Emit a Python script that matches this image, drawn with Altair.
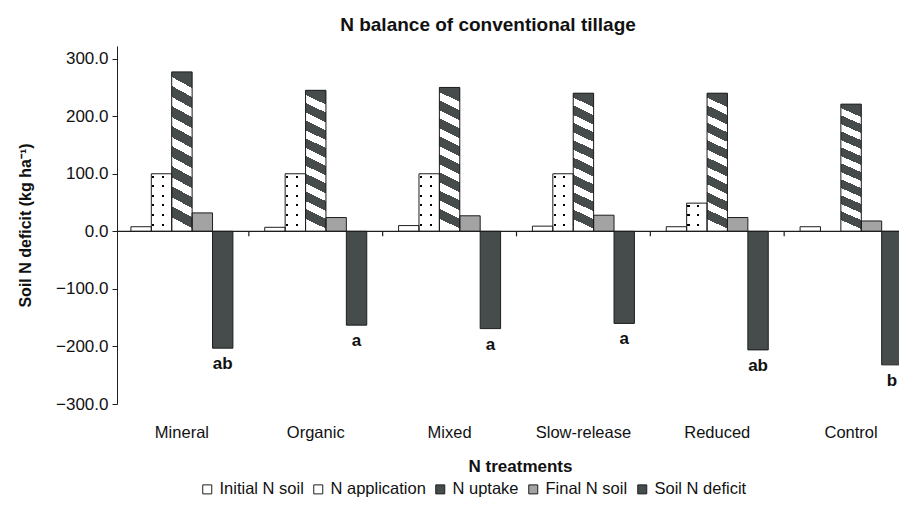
import altair as alt
import pandas as pd

# ---- data ----
treatments = ["Mineral", "Organic", "Mixed", "Slow-release", "Reduced", "Control"]
series = ["Initial N soil", "N application", "N uptake", "Final N soil", "Soil N deficit"]

initial_n_soil = [8, 7, 10, 9, 8, 8]
n_application = [100, 100, 100, 100, 49, 0]
n_uptake = [277, 245, 250, 240, 240, 221]
final_n_soil = [32, 24, 27, 28, 24, 18]
soil_n_deficit = [-203, -163, -169, -160, -206, -232]
letters = ["ab", "a", "a", "a", "ab", "b"]

y_ticks = [-300, -200, -100, 0, 100, 200, 300]

values = [initial_n_soil, n_application, n_uptake, final_n_soil, soil_n_deficit]
rows = []
for s, vals in zip(series, values):
    for t, v in zip(treatments, vals):
        rows.append({"treatment": t, "series": s, "value": v})
df = pd.DataFrame(rows)

df_letters = pd.DataFrame({
    "treatment": treatments,
    "series": ["Soil N deficit"] * len(treatments),
    "value": soil_n_deficit,
    "letter": letters,
})

# boundaries between treatment groups (small ticks below the zero line)
df_bounds = pd.DataFrame({"treatment": treatments[1:], "top": 0.0, "bottom": -8.7})
df_zero = pd.DataFrame({"value": [0.0]})

FONT = "Liberation Sans"
DARK = "#464c4c"
INK = "#1e1e1e"

W, H = 782, 358

x_scale = alt.Scale(domain=treatments, range=[-2, 801], paddingInner=0, paddingOuter=0)
x_enc = alt.X(
    "treatment:N",
    sort=treatments,
    scale=x_scale,
    axis=alt.Axis(
        title="N treatments",
        orient="bottom",
        domain=False,
        ticks=False,
        labelPadding=20,
        labelFontSize=16.5,
        labelAngle=0,
        titleFontSize=17,
        titleFontWeight="bold",
        titleX=403,
        titleY=62,
        titleBaseline="middle",
    ),
)
xo_enc = alt.XOffset("series:N", sort=series,
                     scale=alt.Scale(domain=series, paddingInner=0, paddingOuter=0.78))
y_scale = alt.Scale(domain=[-300, 322], nice=False, zero=False)
y_axis = alt.Axis(
    title="Soil N deficit  (kg ha\u207b\u00b9)",
    values=y_ticks,
    format=".1f",
    tickSize=5,
    labelPadding=4,
    labelFontSize=17,
    titleFontSize=16,
    titleFontWeight="bold",
    titleX=-92,
    titleY=H / 2,
    titleAngle=-90,
    titleBaseline="middle",
    grid=False,
)
y_enc = alt.Y("value:Q", scale=y_scale, axis=y_axis)

# diagonal stripes for N uptake (white on dark)
stripe_stops = []
n_per = 8
for i in range(n_per):
    a = i / n_per
    m = (i + 0.55) / n_per
    b = (i + 1) / n_per
    stripe_stops += [
        {"offset": a, "color": DARK},
        {"offset": m, "color": DARK},
        {"offset": m, "color": "white"},
        {"offset": b, "color": "white"},
    ]
grad_stripes = {"gradient": "linear", "x1": 0.535, "y1": 0, "x2": 0.465, "y2": 1,
                "stops": stripe_stops}

# dotted pattern for N application: dark columns, then white mask with transparent rows
grad_cols = {"gradient": "linear", "x1": 0, "y1": 0, "x2": 1, "y2": 0, "stops": [
    {"offset": 0.0, "color": "white"},
    {"offset": 0.04, "color": "white"},
    {"offset": 0.04, "color": "black"},
    {"offset": 0.14, "color": "black"},
    {"offset": 0.14, "color": "white"},
    {"offset": 0.52, "color": "white"},
    {"offset": 0.52, "color": "black"},
    {"offset": 0.62, "color": "black"},
    {"offset": 0.62, "color": "white"},
    {"offset": 1.0, "color": "white"},
]}


def row_mask(n_rows, dot):
    stops = []
    clear = "rgba(255,255,255,0)"
    for i in range(n_rows):
        c = (i + 0.3) / n_rows
        stops += [
            {"offset": max(c - dot / 2, 0), "color": "white"},
            {"offset": max(c - dot / 2, 0), "color": clear},
            {"offset": c + dot / 2, "color": clear},
            {"offset": c + dot / 2, "color": "white"},
        ]
    return {"gradient": "linear", "x1": 0, "y1": 0, "x2": 0, "y2": 1,
            "stops": [{"offset": 0, "color": "white"}] + stops + [{"offset": 1, "color": "white"}]}


base = alt.Chart(df).mark_bar(strokeWidth=0).encode(
    x=x_enc, xOffset=xo_enc, y=y_enc,
    fill=alt.Fill(
        "series:N",
        sort=series,
        scale=alt.Scale(domain=series, range=["white", "white", DARK, "#a3a3a3", DARK]),
        legend=alt.Legend(
            title=None, orient="none", legendX=82, legendY=435, direction="horizontal",
            columns=5, symbolType="square", symbolSize=81, symbolStrokeColor=INK,
            symbolStrokeWidth=1, labelFontSize=16.5, labelFont=FONT, labelColor="#111",
            columnPadding=6, labelOffset=4,
        ),
    ),
)

enc = dict(x=x_enc, xOffset=xo_enc, y=y_enc)
stripes = alt.Chart(df).transform_filter(alt.datum.series == "N uptake").mark_bar(
    fill=grad_stripes, strokeWidth=0).encode(**enc)
dots_cols = alt.Chart(df).transform_filter(
    (alt.datum.series == "N application") & (alt.datum.value > 0)).mark_bar(
    fill=grad_cols, strokeWidth=0).encode(**enc)
dots_rows_full = alt.Chart(df).transform_filter(
    (alt.datum.series == "N application") & (alt.datum.value > 75)).mark_bar(
    fill=row_mask(6, 0.035), strokeWidth=0).encode(**enc)
dots_rows_half = alt.Chart(df).transform_filter(
    (alt.datum.series == "N application") & (alt.datum.value > 0) & (alt.datum.value <= 75)).mark_bar(
    fill=row_mask(3, 0.07), strokeWidth=0).encode(**enc)
outline = alt.Chart(df).transform_filter(alt.datum.value != 0).mark_bar(
    fillOpacity=0, stroke=INK, strokeWidth=1).encode(**enc)

zero_line = alt.Chart(df_zero).mark_rule(color=INK, strokeWidth=1.2).encode(
    y=alt.Y("value:Q", scale=y_scale, axis=y_axis),
    x=alt.value(0),
    x2=alt.value(W),
)
bound_ticks = alt.Chart(df_bounds).mark_rule(color=INK, strokeWidth=1.2).encode(
    x=alt.X("treatment:N", sort=treatments, scale=x_scale, bandPosition=0),
    y=alt.Y("top:Q", scale=y_scale, axis=y_axis),
    y2="bottom:Q",
)

labels = alt.Chart(df_letters).mark_text(
    font=FONT, fontSize=17, fontWeight="bold", baseline="alphabetic", dy=21, color="#111"
).encode(x=x_enc, xOffset=xo_enc, y=y_enc, text="letter:N")

chart = alt.layer(base, stripes, dots_cols, dots_rows_full, dots_rows_half, outline,
                  zero_line, bound_ticks, labels).properties(
    width=W, height=H,
    autosize=alt.AutoSizeParams(type="none"),
    padding={"left": 109, "top": 38, "right": 0, "bottom": 94},
    title=alt.Title("N balance of conventional tillage", font=FONT, fontSize=19,
                    fontWeight="bold", anchor="middle", frame="group", dx=-20, offset=11,
                    color="#111"),
).configure_view(stroke=None).configure_axis(
    labelFont=FONT, titleFont=FONT, labelColor="#111", titleColor="#111",
    domainColor=INK, tickColor=INK, domainWidth=1, tickWidth=1,
)

chart.save("out.html", embed_options={"renderer": "svg", "actions": False})
